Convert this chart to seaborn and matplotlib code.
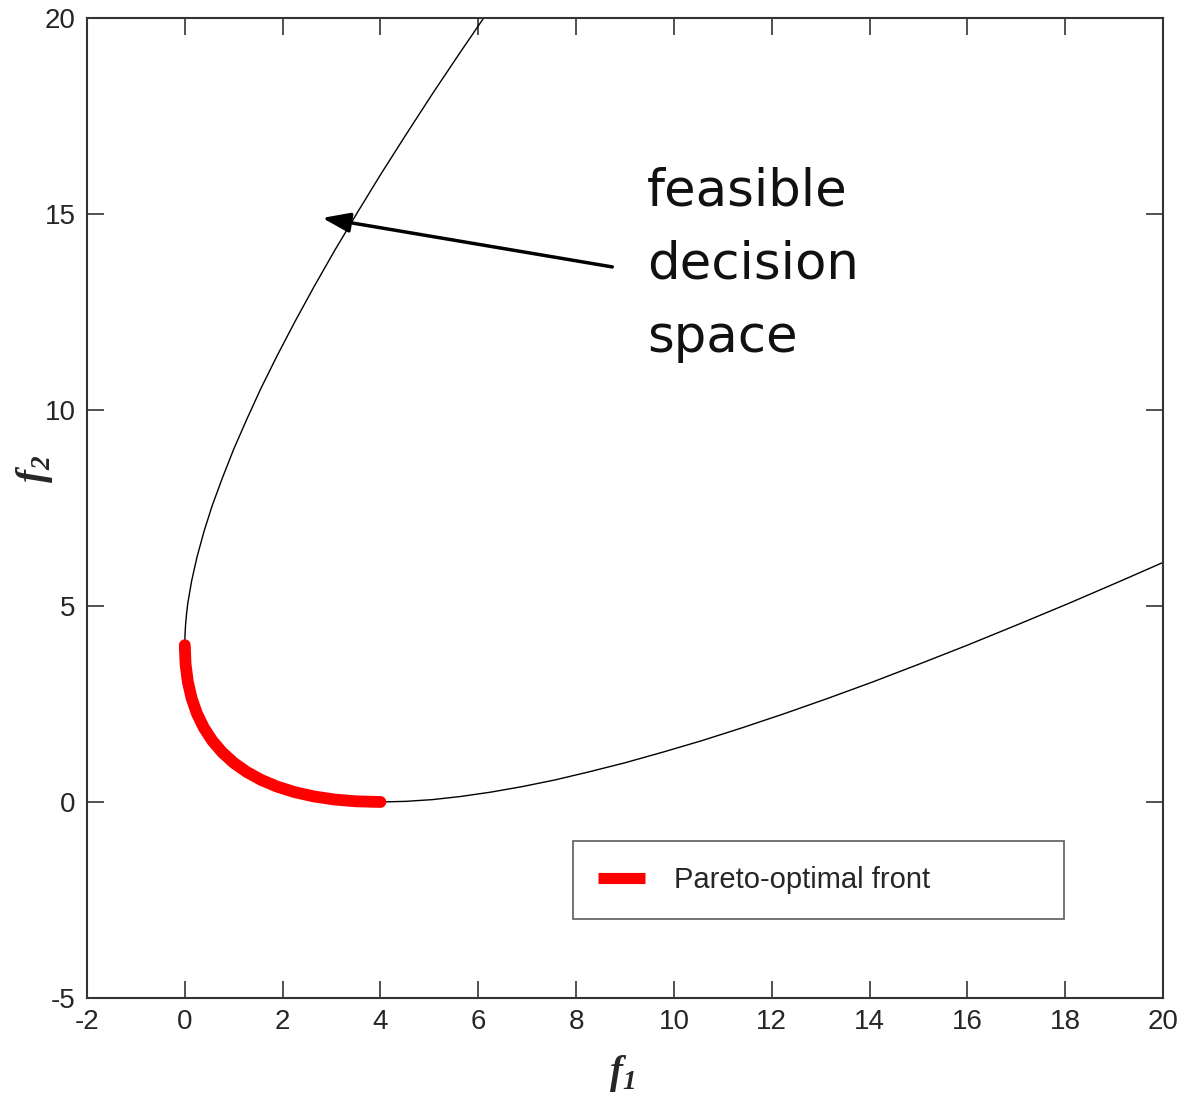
import matplotlib
matplotlib.use("Agg")
import matplotlib.pyplot as plt
import seaborn as sns
import pandas as pd

# feasible decision curve (f1, f2)
curve_f1 = [6.10, 5.64, 5.06, 4.52, 4.00, 3.52, 3.06, 2.64, 2.25, 1.89, 1.56, 1.27, 1.00,
            0.77, 0.56, 0.39, 0.25, 0.14, 0.06, 0.035, 0.016, 0.004, 0.0,
            0.016, 0.0625, 0.141, 0.25, 0.391, 0.5625, 0.766, 1.0, 1.266, 1.5625,
            1.891, 2.25, 2.641, 3.0625, 3.516, 4.0,
            4.52, 5.06, 5.64, 6.25, 6.89, 7.56, 8.27, 9.00, 9.77, 10.56, 11.39, 12.25,
            13.14, 14.06, 15.02, 16.00, 17.02, 18.06, 19.14, 19.98]
curve_f2 = [19.98, 19.14, 18.06, 17.02, 16.00, 15.02, 14.06, 13.14, 12.25, 11.39, 10.56, 9.77, 9.00,
            8.27, 7.56, 6.89, 6.25, 5.64, 5.06, 4.79, 4.52, 4.25, 4.0,
            3.516, 3.0625, 2.641, 2.25, 1.891, 1.5625, 1.266, 1.0, 0.766, 0.5625,
            0.391, 0.25, 0.141, 0.0625, 0.016, 0.0,
            0.016, 0.06, 0.14, 0.25, 0.39, 0.56, 0.77, 1.00, 1.27, 1.56, 1.89, 2.25,
            2.64, 3.06, 3.52, 4.00, 4.52, 5.06, 5.64, 6.10]

# Pareto-optimal front
front_f1 = [0.0, 0.016, 0.0625, 0.141, 0.25, 0.391, 0.5625, 0.766, 1.0, 1.266, 1.5625,
            1.891, 2.25, 2.641, 3.0625, 3.516, 4.0]
front_f2 = [4.0, 3.516, 3.0625, 2.641, 2.25, 1.891, 1.5625, 1.266, 1.0, 0.766, 0.5625,
            0.391, 0.25, 0.141, 0.0625, 0.016, 0.0]

x_ticks = [-2, 0, 2, 4, 6, 8, 10, 12, 14, 16, 18, 20]
y_ticks = [-5, 0, 5, 10, 15, 20]

sns.set_theme(style="white")
plt.rcParams['font.family'] = ['Liberation Sans', 'DejaVu Sans']
plt.rcParams['mathtext.fontset'] = 'custom'
plt.rcParams['mathtext.bf'] = 'Liberation Serif:italic:bold'
plt.rcParams['mathtext.rm'] = 'Liberation Serif:italic:bold'

fig = plt.figure(figsize=(11.8, 10.98), dpi=100)
ax = fig.add_axes([0.0737, 0.0911, 0.9119, 0.8925])

curve_df = pd.DataFrame({"f1": curve_f1, "f2": curve_f2})
front_df = pd.DataFrame({"f1": front_f1, "f2": front_f2})

sns.lineplot(data=curve_df, x="f1", y="f2", sort=False, estimator=None,
             color="black", linewidth=1.0, ax=ax, legend=False)
sns.lineplot(data=front_df, x="f1", y="f2", sort=False, estimator=None,
             color="#ff0000", linewidth=8.5, ax=ax, label="Pareto-optimal front",
             solid_capstyle="round")

ax.set_xlim(-2, 20)
ax.set_ylim(-5, 20)
ax.set_xticks(x_ticks)
ax.set_yticks(y_ticks)
ax.set_xticklabels([str(t) for t in x_ticks])
ax.set_yticklabels([str(t) for t in y_ticks])
ax.tick_params(direction="in", length=12, width=1.2, color="#333333",
               labelsize=20, top=True, right=True, bottom=True, left=True,
               pad=8)
for s in ax.spines.values():
    s.set_visible(True)
    s.set_color("#333333")
    s.set_linewidth(1.5)

ax.set_xlabel(r"$\mathbf{f}_{\mathbf{1}}$", fontsize=28)
ax.set_ylabel(r"$\mathbf{f}_{\mathbf{2}}$", fontsize=28)
ax.xaxis.set_label_coords(0.497, -0.056)
ax.yaxis.set_label_coords(-0.030, 0.54)

ax.annotate("", xy=(2.81, 14.9), xytext=(8.74, 13.65),
            arrowprops=dict(arrowstyle="-|>,head_length=1.4,head_width=0.5",
                            color="black", lw=2.5, shrinkA=0, shrinkB=0))
ax.text(9.45, 13.7, "feasible\ndecision\nspace", fontsize=37, family="DejaVu Sans",
        va="center", ha="left", linespacing=1.6, color="#111111")

leg = ax.legend(loc="lower left", bbox_to_anchor=(0.452, 0.081, 0.456, 0.078),
                mode="expand", fontsize=21, frameon=True, fancybox=False,
                borderaxespad=0, borderpad=0.85, handlelength=1.6, handletextpad=1.0)
leg.get_frame().set_edgecolor("#333333")
leg.get_frame().set_linewidth(1.2)
for h in leg.get_lines():
    h.set_linewidth(8)
    h.set_solid_capstyle("butt")

fig.savefig("out.png", dpi=100)
